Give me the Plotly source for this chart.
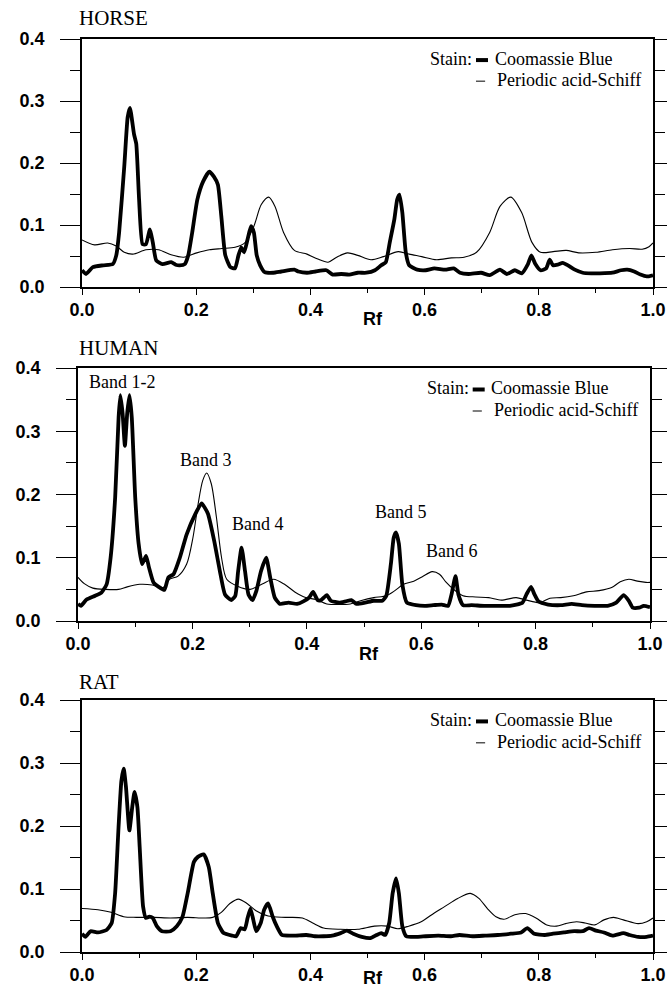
import plotly.graph_objects as go

# ---------------- DATA ----------------
horse_cb_rf = [0.000,0.007,0.019,0.037,0.054,0.060,0.065,0.074,0.080,0.084,0.091,0.095,0.100,0.106,0.112,0.119,0.124,0.130,0.141,0.156,0.164,0.171,0.180,0.186,0.193,0.202,0.212,0.223,0.231,0.238,0.244,0.251,0.260,0.268,0.274,0.279,0.284,0.290,0.296,0.301,0.306,0.312,0.320,0.335,0.349,0.372,0.379,0.394,0.409,0.428,0.439,0.454,0.468,0.483,0.498,0.513,0.524,0.532,0.539,0.547,0.552,0.556,0.561,0.567,0.573,0.587,0.602,0.617,0.636,0.651,0.662,0.677,0.699,0.714,0.732,0.744,0.758,0.770,0.781,0.787,0.794,0.803,0.813,0.819,0.825,0.833,0.842,0.851,0.863,0.877,0.892,0.907,0.929,0.944,0.955,0.967,0.978,0.989,1.000]
horse_cb_val = [0.027,0.021,0.032,0.035,0.037,0.051,0.088,0.194,0.274,0.289,0.247,0.231,0.141,0.069,0.069,0.093,0.072,0.043,0.037,0.040,0.036,0.035,0.037,0.051,0.088,0.141,0.170,0.186,0.178,0.165,0.114,0.051,0.032,0.030,0.051,0.064,0.056,0.077,0.098,0.088,0.051,0.035,0.024,0.023,0.025,0.028,0.025,0.023,0.025,0.027,0.020,0.021,0.020,0.023,0.023,0.027,0.035,0.040,0.072,0.109,0.141,0.149,0.120,0.056,0.035,0.028,0.027,0.030,0.028,0.030,0.023,0.021,0.023,0.019,0.028,0.021,0.027,0.022,0.037,0.051,0.037,0.027,0.030,0.044,0.035,0.036,0.039,0.035,0.028,0.023,0.022,0.022,0.023,0.027,0.028,0.025,0.020,0.017,0.019]
horse_pas_rf = [0.000,0.022,0.045,0.060,0.074,0.089,0.112,0.134,0.156,0.178,0.201,0.223,0.245,0.268,0.286,0.301,0.314,0.327,0.338,0.353,0.372,0.394,0.413,0.431,0.446,0.465,0.483,0.506,0.528,0.554,0.573,0.595,0.621,0.647,0.669,0.691,0.714,0.732,0.751,0.770,0.788,0.803,0.825,0.848,0.870,0.900,0.929,0.959,0.981,0.993,1.000]
horse_pas_val = [0.076,0.068,0.071,0.066,0.056,0.053,0.060,0.060,0.052,0.048,0.055,0.060,0.062,0.064,0.072,0.098,0.133,0.145,0.130,0.088,0.059,0.053,0.045,0.040,0.048,0.055,0.051,0.044,0.049,0.057,0.053,0.049,0.044,0.047,0.048,0.056,0.088,0.130,0.145,0.120,0.072,0.056,0.057,0.059,0.055,0.056,0.060,0.062,0.061,0.065,0.071]

human_cb_rf = [0.000,0.005,0.015,0.030,0.041,0.050,0.057,0.065,0.071,0.074,0.078,0.082,0.086,0.090,0.094,0.100,0.106,0.112,0.119,0.124,0.132,0.141,0.151,0.158,0.167,0.178,0.190,0.205,0.216,0.227,0.238,0.248,0.257,0.268,0.275,0.280,0.286,0.292,0.298,0.305,0.312,0.320,0.329,0.336,0.344,0.353,0.368,0.383,0.394,0.404,0.411,0.419,0.425,0.435,0.442,0.457,0.468,0.478,0.487,0.502,0.517,0.532,0.539,0.547,0.552,0.556,0.561,0.567,0.575,0.591,0.606,0.621,0.636,0.647,0.653,0.660,0.665,0.673,0.688,0.710,0.732,0.755,0.777,0.784,0.792,0.798,0.805,0.822,0.844,0.863,0.881,0.903,0.926,0.941,0.954,0.963,0.970,0.981,0.989,1.000]
human_cb_val = [0.027,0.024,0.034,0.040,0.045,0.058,0.100,0.196,0.322,0.357,0.328,0.277,0.328,0.357,0.322,0.196,0.122,0.090,0.103,0.085,0.061,0.054,0.049,0.069,0.074,0.100,0.137,0.169,0.186,0.170,0.127,0.079,0.042,0.033,0.040,0.079,0.116,0.079,0.042,0.033,0.048,0.079,0.100,0.069,0.037,0.027,0.029,0.027,0.031,0.037,0.046,0.033,0.033,0.041,0.032,0.029,0.031,0.033,0.027,0.029,0.032,0.032,0.040,0.090,0.132,0.140,0.122,0.058,0.029,0.025,0.024,0.025,0.026,0.024,0.042,0.071,0.042,0.025,0.025,0.024,0.024,0.024,0.029,0.042,0.054,0.042,0.031,0.026,0.025,0.027,0.025,0.024,0.024,0.029,0.041,0.032,0.021,0.021,0.024,0.022]
human_pas_rf = [0.000,0.011,0.026,0.048,0.071,0.086,0.108,0.130,0.149,0.160,0.175,0.190,0.201,0.210,0.218,0.225,0.233,0.242,0.251,0.260,0.279,0.301,0.323,0.342,0.361,0.379,0.398,0.416,0.435,0.457,0.476,0.494,0.517,0.539,0.554,0.569,0.587,0.602,0.619,0.632,0.643,0.658,0.673,0.695,0.718,0.740,0.766,0.784,0.807,0.825,0.844,0.866,0.889,0.911,0.933,0.948,0.963,0.978,0.993,1.000]
human_pas_val = [0.069,0.059,0.052,0.050,0.050,0.054,0.058,0.057,0.053,0.066,0.071,0.090,0.132,0.185,0.222,0.234,0.217,0.164,0.100,0.066,0.055,0.050,0.059,0.066,0.058,0.046,0.037,0.034,0.027,0.026,0.027,0.032,0.037,0.040,0.048,0.058,0.063,0.070,0.078,0.074,0.062,0.049,0.040,0.038,0.037,0.033,0.037,0.033,0.029,0.036,0.037,0.040,0.046,0.048,0.053,0.062,0.066,0.063,0.061,0.061]

rat_cb_rf = [0.000,0.006,0.015,0.028,0.043,0.052,0.058,0.064,0.069,0.073,0.077,0.083,0.088,0.092,0.097,0.101,0.107,0.112,0.118,0.124,0.131,0.140,0.155,0.166,0.176,0.185,0.196,0.203,0.213,0.222,0.229,0.238,0.248,0.263,0.270,0.278,0.285,0.290,0.295,0.300,0.305,0.313,0.319,0.326,0.334,0.341,0.350,0.371,0.393,0.408,0.423,0.438,0.453,0.464,0.475,0.490,0.505,0.516,0.524,0.531,0.538,0.544,0.550,0.555,0.561,0.568,0.587,0.602,0.624,0.646,0.661,0.684,0.706,0.728,0.751,0.769,0.780,0.792,0.810,0.825,0.844,0.862,0.877,0.888,0.900,0.914,0.929,0.948,0.959,0.974,0.989,1.000]
rat_cb_val = [0.029,0.024,0.033,0.031,0.035,0.046,0.093,0.198,0.272,0.291,0.262,0.193,0.230,0.254,0.230,0.167,0.072,0.054,0.056,0.054,0.041,0.033,0.033,0.041,0.056,0.093,0.143,0.151,0.155,0.135,0.093,0.046,0.030,0.026,0.025,0.038,0.036,0.054,0.069,0.051,0.033,0.046,0.067,0.077,0.056,0.041,0.027,0.026,0.027,0.025,0.025,0.026,0.030,0.034,0.029,0.024,0.022,0.027,0.030,0.027,0.046,0.093,0.117,0.093,0.041,0.025,0.024,0.025,0.026,0.025,0.027,0.025,0.026,0.027,0.029,0.031,0.038,0.029,0.027,0.029,0.031,0.033,0.033,0.038,0.034,0.031,0.026,0.030,0.027,0.024,0.024,0.026]
rat_pas_rf = [0.000,0.028,0.051,0.073,0.095,0.125,0.155,0.185,0.214,0.229,0.244,0.259,0.274,0.289,0.304,0.326,0.356,0.386,0.404,0.423,0.453,0.483,0.512,0.535,0.553,0.572,0.594,0.617,0.635,0.658,0.680,0.695,0.710,0.725,0.739,0.758,0.777,0.795,0.814,0.831,0.847,0.866,0.881,0.898,0.914,0.931,0.948,0.974,0.989,1.000]
rat_pas_val = [0.069,0.067,0.063,0.056,0.055,0.055,0.054,0.055,0.054,0.055,0.063,0.077,0.084,0.077,0.066,0.057,0.055,0.054,0.046,0.038,0.036,0.036,0.041,0.041,0.037,0.041,0.048,0.062,0.072,0.085,0.093,0.085,0.069,0.056,0.052,0.059,0.061,0.054,0.043,0.041,0.045,0.048,0.046,0.043,0.051,0.055,0.051,0.045,0.048,0.054]

panel_titles = ["HORSE", "HUMAN", "RAT"]
x_ticks = [0.0, 0.2, 0.4, 0.6, 0.8, 1.0]
y_ticks = [0.0, 0.1, 0.2, 0.3, 0.4]
legend_labels = ["Coomassie Blue", "Periodic acid-Schiff"]
band_labels = ["Band 1-2", "Band 3", "Band 4", "Band 5", "Band 6"]
band_rf = [0.077, 0.223, 0.314, 0.565, 0.654]
band_val = [0.378, 0.254, 0.153, 0.173, 0.111]

# ---------------- LAYOUT GEOMETRY (pixels) ----------------
W, H = 667, 988
panels = [  # (x_left, x_right, y_top, y_bottom, title_y, rf_y)
    (82, 653, 39, 287, 18, 319),
    (78, 650, 368, 621, 348, 654),
    (82, 653, 700, 952, 682, 978),
]
series = [
    (horse_cb_rf, horse_cb_val, horse_pas_rf, horse_pas_val),
    (human_cb_rf, human_cb_val, human_pas_rf, human_pas_val),
    (rat_cb_rf, rat_cb_val, rat_pas_rf, rat_pas_val),
]

SANS = "Liberation Sans, Arial, sans-serif"
TICKFONT = dict(family=SANS, size=18, color="black", weight="bold")
SERIF = "Liberation Serif, Times New Roman, serif"

fig = go.Figure()
layout = dict(width=W, height=H, autosize=False, margin=dict(l=0, r=0, t=0, b=0, pad=0),
              paper_bgcolor="white", plot_bgcolor="white", showlegend=False)
annotations = []
shapes = []

for i, ((xl, xr, yt, yb, ty, ry), (cbx, cby, px, py)) in enumerate(zip(panels, series)):
    n = "" if i == 0 else str(i + 1)
    xa, ya = "x" + n, "y" + n
    fig.add_trace(go.Scatter(x=px, y=py, mode="lines", xaxis=xa, yaxis=ya,
                             line=dict(color="black", width=1.1, shape="spline", smoothing=0.8)))
    fig.add_trace(go.Scatter(x=cbx, y=cby, mode="lines", xaxis=xa, yaxis=ya,
                             line=dict(color="black", width=3.8, shape="spline", smoothing=0.5)))
    layout["xaxis" + n] = dict(
        domain=[xl / W, xr / W], anchor=ya, range=[0, 1], automargin=False,
        tickvals=x_ticks, ticktext=[f"{v:.1f}" for v in x_ticks],
        ticks="outside", ticklen=6, tickwidth=1.3, tickcolor="black",
        showline=True, linecolor="black", linewidth=1.5, mirror=True,
        showgrid=False, zeroline=False, tickfont=TICKFONT,
        minor=dict(ticks="outside", ticklen=4, dtick=0.1, tickcolor="black", tickwidth=1, showgrid=False),
        fixedrange=True,
    )
    layout["yaxis" + n] = dict(
        domain=[1 - yb / H, 1 - yt / H], anchor=xa, range=[0, 0.4], automargin=False,
        tickvals=y_ticks, ticktext=[f"{v:.1f}" for v in y_ticks],
        ticks="outside", ticklen=20, tickwidth=1.3, tickcolor="black",
        showline=True, linecolor="black", linewidth=1.5, mirror="ticks",
        showgrid=False, zeroline=False, tickfont=TICKFONT, ticklabelstandoff=12,
        minor=dict(ticks="outside", ticklen=10, dtick=0.05, tickcolor="black", tickwidth=1, showgrid=False),
        fixedrange=True,
    )
    annotations.append(dict(text=panel_titles[i], xref="paper", yref="paper",
                            x=77 / W, y=1 - ty / H, xanchor="left", yanchor="middle",
                            showarrow=False, font=dict(family=SERIF, size=21, color="black")))
    annotations.append(dict(text="Rf", xref="paper", yref="paper",
                            x=(xl + 0.509 * (xr - xl)) / W, y=1 - ry / H,
                            xanchor="center", yanchor="middle", showarrow=False,
                            font=dict(family=SANS, size=18, color="black", weight="bold")))
    annotations.append(dict(text="Stain:", xref=xa, yref=ya, x=0.606, y=0.368,
                            xanchor="left", yanchor="middle", showarrow=False,
                            font=dict(family=SERIF, size=18, color="black")))
    annotations.append(dict(text=legend_labels[0], xref=xa, yref=ya, x=0.719, y=0.368,
                            xanchor="left", yanchor="middle", showarrow=False,
                            font=dict(family=SERIF, size=18, color="black")))
    annotations.append(dict(text=legend_labels[1], xref=xa, yref=ya, x=0.724, y=0.334,
                            xanchor="left", yanchor="middle", showarrow=False,
                            font=dict(family=SERIF, size=18, color="black")))
    shapes.append(dict(type="line", xref=xa, yref=ya, x0=0.690, x1=0.711, y0=0.366, y1=0.366,
                       line=dict(color="black", width=4)))
    shapes.append(dict(type="line", xref=xa, yref=ya, x0=0.690, x1=0.706, y0=0.332, y1=0.332,
                       line=dict(color="black", width=1)))

for lab, bx, by in zip(band_labels, band_rf, band_val):
    annotations.append(dict(text=lab, xref="x2", yref="y2", x=bx, y=by,
                            xanchor="center", yanchor="middle", showarrow=False,
                            font=dict(family=SERIF, size=18, color="black")))

layout["annotations"] = annotations
layout["shapes"] = shapes
fig.update_layout(**layout)
fig.write_html("out.html", post_script="document.body.style.margin='0';document.body.style.padding='0';")
